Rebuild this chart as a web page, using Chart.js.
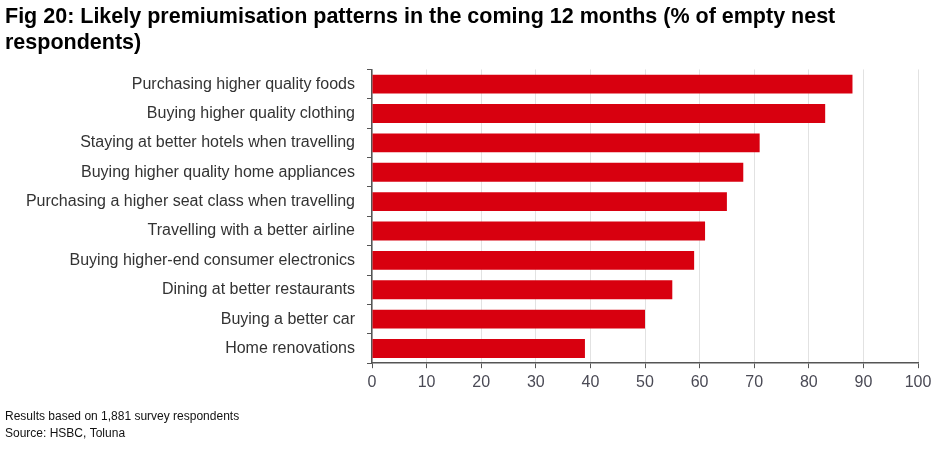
<!DOCTYPE html>
<html>
<head>
<meta charset="utf-8">
<script src="https://cdn.jsdelivr.net/npm/chart.js@4"></script>
<style>
  body { margin: 0; background: #fff; }
</style>
</head>
<body>
<canvas id="myChart" width="942" height="450"></canvas>
<script>
const ctx = document.getElementById('myChart');

const categories = [
  'Purchasing higher quality foods',
  'Buying higher quality clothing',
  'Staying at better hotels when travelling',
  'Buying higher quality home appliances',
  'Purchasing a higher seat class when travelling',
  'Travelling with a better airline',
  'Buying higher-end consumer electronics',
  'Dining at better restaurants',
  'Buying a better car',
  'Home renovations'
];

const values = [88, 83, 71, 68, 65, 61, 59, 55, 50, 39];

const xMin = 0;
const xMax = 100;
const xStep = 10;

const titleLines = [
  'Fig 20: Likely premiumisation patterns in the coming 12 months (% of empty nest',
  'respondents)'
];
const footLines = [
  'Results based on 1,881 survey respondents',
  'Source: HSBC, Toluna'
];

const sans = '"Liberation Sans", Arial, sans-serif';

new Chart(ctx, {
  type: 'bar',
  data: {
    labels: categories,
    datasets: [{
      data: values,
      backgroundColor: '#d8000f',
      barPercentage: 0.64,
      categoryPercentage: 1
    }]
  },
  options: {
    indexAxis: 'y',
    responsive: false,
    animation: false,
    layout: { padding: { left: 5, right: 24, top: 0, bottom: 0 } },
    plugins: {
      legend: { display: false },
      tooltip: { enabled: false },
      title: {
        display: true,
        text: titleLines,
        align: 'start',
        color: '#000',
        font: { family: sans, size: 21.5, weight: 'bold', lineHeight: 1.22 },
        padding: { top: 4, bottom: 13 }
      },
      subtitle: {
        display: true,
        position: 'bottom',
        text: footLines,
        align: 'start',
        color: '#111',
        font: { family: sans, size: 12, lineHeight: 1.4 },
        padding: { top: 11, bottom: 8 }
      }
    },
    scales: {
      x: {
        min: xMin,
        max: xMax,
        ticks: {
          stepSize: xStep,
          color: '#4a4a55',
          padding: 5,
          font: { family: sans, size: 16 }
        },
        grid: {
          color: '#e2e2e2',
          tickColor: '#555',
          tickLength: 5
        },
        border: { color: '#555', width: 1.5 }
      },
      y: {
        afterFit: (scale) => { scale.width = 367; },
        ticks: {
          color: '#333',
          padding: 12,
          font: { family: sans, size: 16 }
        },
        grid: {
          drawOnChartArea: false,
          tickColor: '#555',
          tickLength: 5
        },
        border: { color: '#555', width: 1.5 }
      }
    }
  }
});
</script>
</body>
</html>
